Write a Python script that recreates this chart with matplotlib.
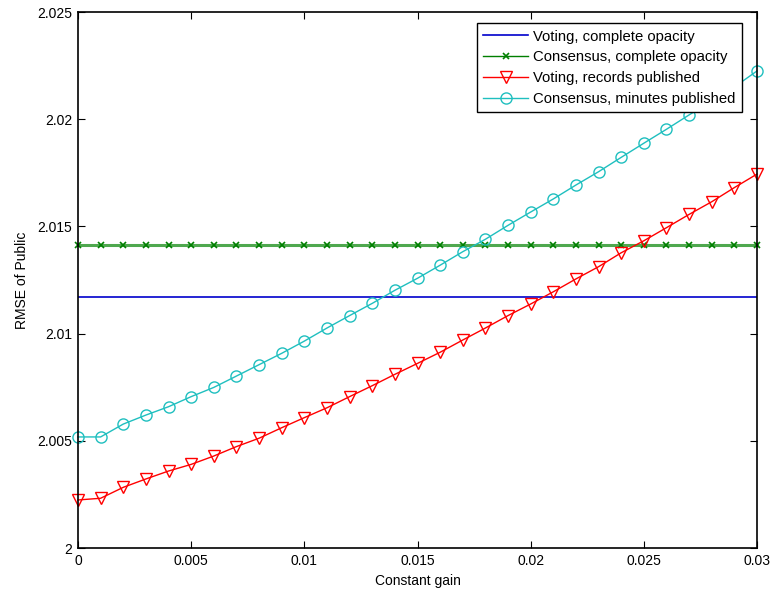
import numpy as np
import matplotlib.pyplot as plt

plt.rcParams['font.family'] = ['Liberation Sans', 'DejaVu Sans']
plt.rcParams['font.size'] = 10

# Constant gain values
gain = np.arange(31) * 0.001

# RMSE values
voting_opaque = 2.01169
consensus_opaque = 2.01415
voting_records = [2.00224, 2.00232, 2.00283, 2.00322, 2.00359, 2.00390, 2.00429, 2.00473,
                  2.00512, 2.00561, 2.00608, 2.00654, 2.00706, 2.00757, 2.00810, 2.00861,
                  2.00913, 2.00970, 2.01026, 2.01084, 2.01138, 2.01195, 2.01255, 2.01312,
                  2.01377, 2.01433, 2.01494, 2.01556, 2.01615, 2.01681, 2.01744]
consensus_minutes = [2.00518, 2.00518, 2.00578, 2.00620, 2.00659, 2.00706, 2.00749, 2.00802,
                     2.00855, 2.00908, 2.00965, 2.01026, 2.01084, 2.01141, 2.01202, 2.01258,
                     2.01319, 2.01382, 2.01440, 2.01505, 2.01567, 2.01628, 2.01693, 2.01755,
                     2.01822, 2.01888, 2.01953, 2.02020, 2.02085, 2.02150, 2.02225]

fig = plt.figure(figsize=(7.73, 5.94), dpi=100)
ax = fig.add_axes([78 / 773, 46 / 594, 679 / 773, 536 / 594])

ax.plot(gain, [voting_opaque] * len(gain), color='#0000cc', lw=1.2,
        label='Voting, complete opacity')
ax.plot(gain, [consensus_opaque] * len(gain), color='#4fa84f', lw=2.2, marker='x',
        markersize=4, markeredgecolor='#007f00', markeredgewidth=1.2, clip_on=False,
        label='Consensus, complete opacity')
ax.plot(gain, voting_records, color='red', lw=1, marker='v', markersize=9,
        markerfacecolor='none', markeredgecolor='red', clip_on=False,
        label='Voting, records published')
ax.plot(gain, consensus_minutes, color='#1fbfbf', lw=1, marker='o', markersize=8,
        markerfacecolor='none', markeredgecolor='#1fbfbf', clip_on=False,
        label='Consensus, minutes published')

ax.set_xlim(0, 0.03)
ax.set_ylim(2, 2.025)
ax.set_xticks([0, 0.005, 0.01, 0.015, 0.02, 0.025, 0.03])
ax.set_xticklabels(['0', '0.005', '0.01', '0.015', '0.02', '0.025', '0.03'])
ax.set_yticks([2, 2.005, 2.01, 2.015, 2.02, 2.025])
ax.set_yticklabels(['2', '2.005', '2.01', '2.015', '2.02', '2.025'])
ax.tick_params(direction='in', length=5, top=True, right=True, labelsize=10, pad=4)
for s in ax.spines.values():
    s.set_linewidth(1.2)

ax.set_xlabel('Constant gain', labelpad=5)
ax.set_ylabel('RMSE of Public', labelpad=6)

leg = ax.legend(loc='upper right', bbox_to_anchor=(0.978, 0.9795), borderaxespad=0,
                fancybox=False, edgecolor='black', framealpha=1, handlelength=3.0,
                borderpad=0.45, labelspacing=0.45, handletextpad=0.35, fontsize=10.7)
leg.get_frame().set_linewidth(1)
# thin dark green line in the legend entry
leg.get_lines()[1].set_color('#007f00')
leg.get_lines()[1].set_linewidth(1)

fig.savefig('out.png', dpi=100)
